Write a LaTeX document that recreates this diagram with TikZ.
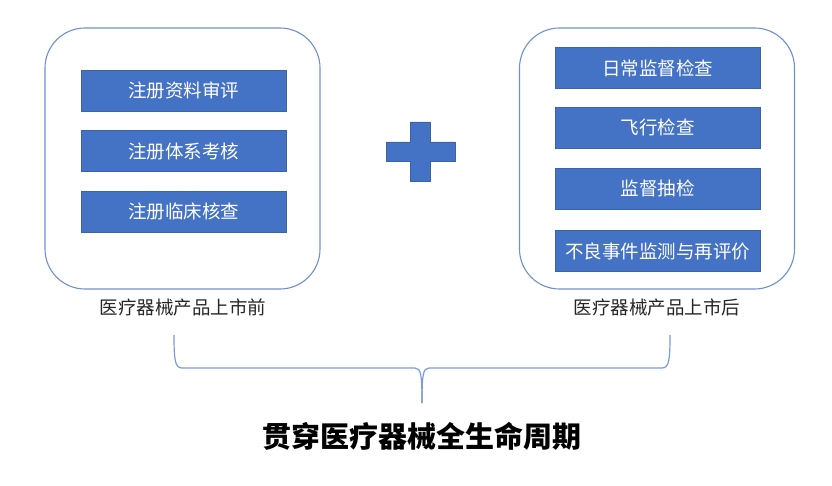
\documentclass[tikz,border=0pt]{standalone}
\usepackage{fontspec}
\setmainfont{Noto Sans CJK SC}
\usepackage{tikz}
\definecolor{boxblue}{HTML}{4472C4}
\definecolor{edgeblue}{HTML}{3A62AD}
\definecolor{frameblue}{HTML}{6F8FCF}
\definecolor{braceblue}{HTML}{7A9BDC}
\definecolor{labelgray}{HTML}{262626}
\tikzstyle{frame}=[draw=frameblue,line width=1.1pt,rounded corners=40pt,minimum width=275pt,minimum height=261pt]
\tikzstyle{item}=[fill=boxblue,draw=edgeblue,line width=0.6pt,minimum width=205pt,minimum height=41pt,inner sep=0pt,text=white,font=\fontsize{18.5pt}{20pt}\selectfont]
\tikzstyle{phase}=[text=labelgray,inner sep=0pt,font=\fontsize{18.5pt}{20pt}\selectfont]
\tikzstyle{brace}=[draw=braceblue,line width=1.2pt]

\begin{document}
\begin{tikzpicture}[x=1pt,y=-1pt]
\useasboundingbox (0,0) rectangle (832,486);
\node[frame] (pre) at (182.5,158.5) {};
\node[frame] (post) at (657,158.5) {};
\node[item] (a1) at (183.5,90.5) {注册资料审评};
\node[item] (a2) at (183.5,151) {注册体系考核};
\node[item] (a3) at (183.5,211.5) {注册临床核查};
\node[item] (b1) at (657.5,68) {日常监督检查};
\node[item] (b2) at (657.5,127.5) {飞行检查};
\node[item] (b3) at (657.5,188.5) {监督抽检};
\node[item] (b4) at (657.5,251) {不良事件监测与再评价};
\node[phase] (prel) at (183,307) {医疗器械产品上市前};
\node[phase] (postl) at (657,307) {医疗器械产品上市后};
\node[inner sep=0pt,font=\fontsize{29pt}{31pt}\selectfont\bfseries] (life) at (422,436) {贯穿医疗器械全生命周期};
% plus sign
\filldraw[fill=boxblue,draw=edgeblue,line width=0.6pt] (410,122) -- (430,122) -- (430,142) -- (455,142) -- (455,161) -- (430,161) -- (430,181) -- (410,181) -- (410,161) -- (386,161) -- (386,142) -- (410,142) -- cycle;
% brace
\coordinate (bl) at (174,335);
\coordinate (br) at (670,335);
\coordinate (tip) at (422,403);
\draw[brace] (bl) .. controls (174,360) and (175,368) .. (182,368) -- (415,368) .. controls (421,368) and (422,375) .. (tip);
\draw[brace] (br) .. controls (670,360) and (669,368) .. (662,368) -- (429,368) .. controls (423,368) and (422,375) .. (tip);
\end{tikzpicture}
\end{document}
